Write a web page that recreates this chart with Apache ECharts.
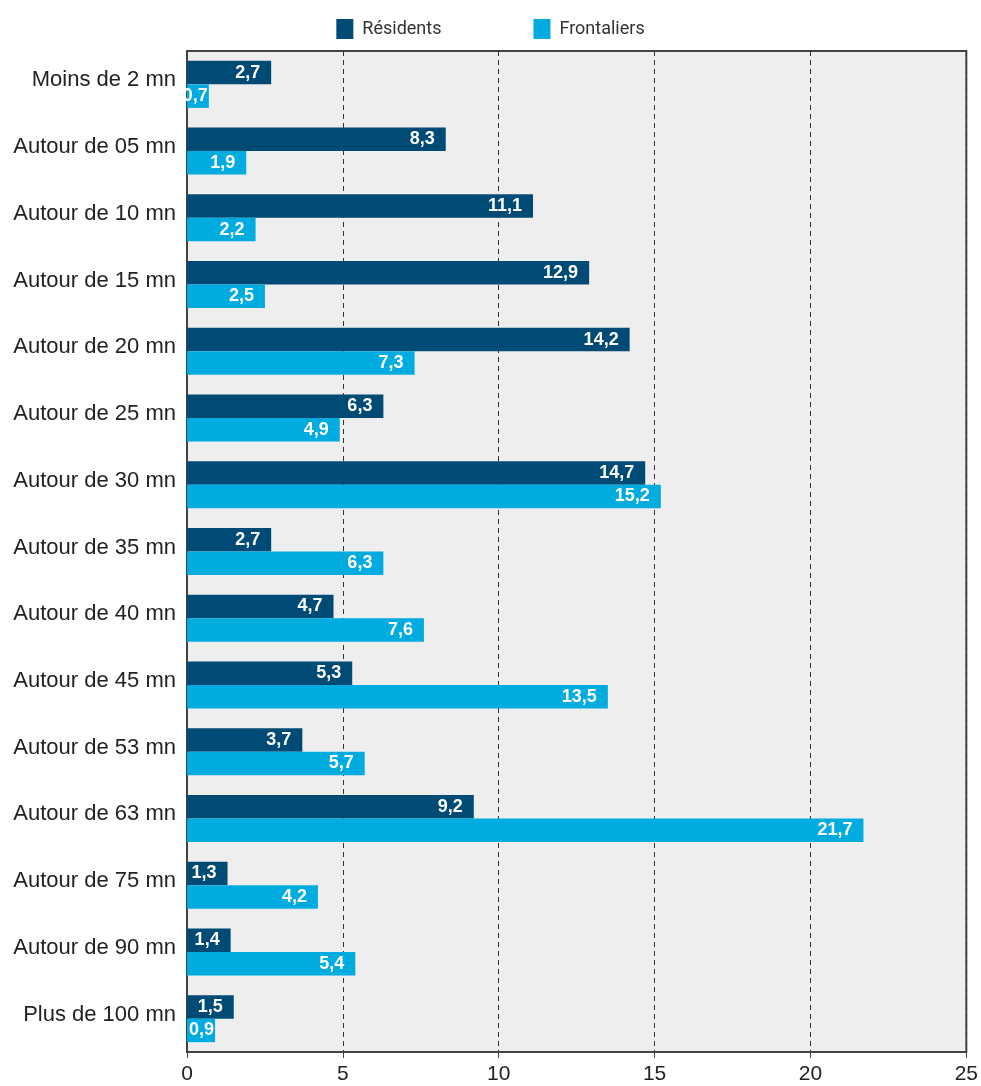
<!DOCTYPE html>
<html>
<head>
<meta charset="utf-8">
<script src="https://cdn.jsdelivr.net/npm/echarts@6/dist/echarts.min.js"></script>
<style>html,body{margin:0;padding:0;background:#fff}#c{width:981px;height:1086px}</style>
</head>
<body>
<div id="c"></div>
<script>
const categories = ["Moins de 2 mn","Autour de 05 mn","Autour de 10 mn","Autour de 15 mn","Autour de 20 mn","Autour de 25 mn","Autour de 30 mn","Autour de 35 mn","Autour de 40 mn","Autour de 45 mn","Autour de 53 mn","Autour de 63 mn","Autour de 75 mn","Autour de 90 mn","Plus de 100 mn"];
const residents = [2.7, 8.3, 11.1, 12.9, 14.2, 6.3, 14.7, 2.7, 4.7, 5.3, 3.7, 9.2, 1.3, 1.4, 1.5];
const frontaliers = [0.7, 1.9, 2.2, 2.5, 7.3, 4.9, 15.2, 6.3, 7.6, 13.5, 5.7, 21.7, 4.2, 5.4, 0.9];
const xTicks = [0, 5, 10, 15, 20, 25];

const chart = echarts.init(document.getElementById('c'), null, {renderer: 'canvas'});
const FONT = '"Liberation Sans", Arial, sans-serif';
const fmt = p => String(p.value).replace('.', ',');
const labelStyle = {
  show: true, position: 'insideRight', distance: 11, formatter: fmt,
  color: '#fff', fontWeight: 'bold', fontSize: 18, fontFamily: FONT
};
// short bars: label hugs the bar end
const toItems = arr => arr.map(v => v < 1 ? {value: v, label: {distance: 1}} : v);

chart.setOption({
  animation: false,
  textStyle: {fontFamily: FONT},
  legend: {
    top: 14, left: 'center', itemWidth: 17, itemHeight: 20, itemGap: 92,
    icon: 'rect',
    textStyle: {fontSize: 18, color: '#333', fontFamily: 'Roboto, ' + FONT, padding: [0, 0, 0, 4]},
    data: ['Résidents', 'Frontaliers']
  },
  grid: {
    left: 187, right: 14, top: 51, bottom: 34,
    show: true, backgroundColor: '#eeeeee', borderColor: '#444', borderWidth: 2
  },
  xAxis: {
    type: 'value', min: 0, max: 25, interval: 5,
    axisLine: {show: true, lineStyle: {color: '#444', width: 1.5}},
    axisTick: {show: true, length: 6, lineStyle: {color: '#444'}},
    axisLabel: {fontSize: 21, color: '#222', margin: 12, formatter: v => xTicks.includes(v) ? String(v) : ''},
    splitLine: {show: true, lineStyle: {color: '#333', type: [5, 4], width: 1}}
  },
  yAxis: {
    type: 'category', data: categories, inverse: true,
    axisLine: {show: true, lineStyle: {color: '#444', width: 1.5}},
    axisTick: {show: false},
    axisLabel: {fontSize: 22, color: '#222', margin: 11, verticalAlign: 'bottom', lineHeight: 8},
    splitLine: {show: false}
  },
  series: [
    {name: 'Résidents', type: 'bar', data: toItems(residents), barWidth: 23.5, barGap: '0%',
     itemStyle: {color: '#004b75'}, label: labelStyle},
    {name: 'Frontaliers', type: 'bar', data: toItems(frontaliers), barWidth: 23.5, barGap: '0%',
     itemStyle: {color: '#00abe0'}, label: labelStyle}
  ]
});
</script>
</body>
</html>
